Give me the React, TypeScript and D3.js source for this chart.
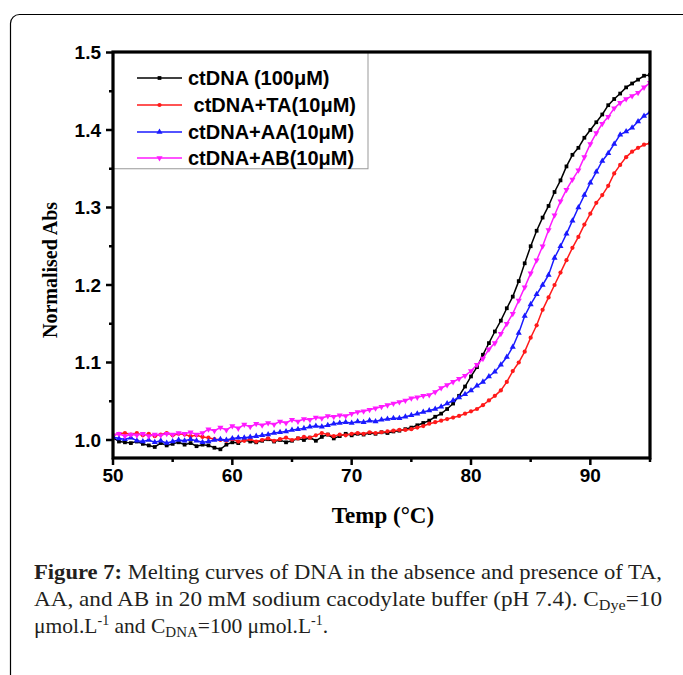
import React from "react";
import * as d3 from "d3";

// Temperature grid (°C)
const TEMP_START = 50;
const TEMP_STEP = 0.5;

// Normalised absorbance, one value per 0.5 °C from 50 to 95 °C
const ctDNA = [
  1.003, 0.998, 0.997, 0.996, 0.998, 0.995, 0.993, 0.991, 0.996, 0.993,
  0.995, 0.997, 0.994, 0.996, 0.992, 0.994, 0.993, 0.990, 0.988, 0.994,
  0.997, 0.996, 1.000, 0.998, 0.997, 0.999, 1.001, 0.998, 1.000, 0.997,
  0.999, 1.002, 1.000, 1.003, 0.999, 1.004, 1.007, 1.002, 1.005, 1.008,
  1.006, 1.008, 1.007, 1.009, 1.008, 1.010, 1.009, 1.011, 1.012, 1.014,
  1.016, 1.019, 1.022, 1.025, 1.030, 1.034, 1.040, 1.047, 1.057, 1.069,
  1.082, 1.094, 1.110, 1.125, 1.140, 1.154, 1.170, 1.185, 1.205, 1.228,
  1.250, 1.270, 1.287, 1.302, 1.320, 1.335, 1.353, 1.368, 1.377, 1.390,
  1.400, 1.410, 1.420, 1.432, 1.440, 1.447, 1.455, 1.460, 1.465, 1.470,
  1.471,
];
const ctDNA_TA = [
  1.006, 1.008, 1.009, 1.007, 1.009, 1.006, 1.008, 1.005, 1.007, 1.009,
  1.006, 1.008, 1.007, 1.005, 1.006, 1.004, 1.003, 1.001, 1.000, 0.999,
  1.001, 0.998, 0.999, 1.001, 0.998, 1.000, 1.002, 0.999, 1.001, 1.003,
  1.000, 1.002, 1.004, 1.003, 1.006, 1.009, 1.007, 1.005, 1.007, 1.006,
  1.008, 1.009, 1.008, 1.010, 1.009, 1.010, 1.011, 1.012, 1.013, 1.013,
  1.014, 1.016, 1.018, 1.021, 1.023, 1.025, 1.027, 1.029, 1.031, 1.034,
  1.037, 1.040, 1.045, 1.051, 1.057, 1.064, 1.075, 1.089, 1.100, 1.114,
  1.132, 1.148, 1.168, 1.184, 1.200, 1.216, 1.232, 1.248, 1.262, 1.278,
  1.292, 1.306, 1.316, 1.328, 1.344, 1.355, 1.365, 1.372, 1.377, 1.381,
  1.383,
];
const ctDNA_AA = [
  1.004, 1.002, 1.001, 1.003, 0.999, 0.998, 1.000, 0.997, 0.999, 0.996,
  0.998, 1.000, 0.999, 1.001, 0.999, 0.997, 0.998, 1.000, 1.001, 1.000,
  1.002, 1.003, 1.003, 1.004, 1.005, 1.006, 1.007, 1.009, 1.010, 1.011,
  1.013, 1.014, 1.015, 1.017, 1.018, 1.017, 1.019, 1.021, 1.022, 1.023,
  1.022, 1.024, 1.023, 1.025, 1.024, 1.026, 1.027, 1.028, 1.028, 1.030,
  1.032, 1.034, 1.036, 1.038, 1.040, 1.043, 1.047, 1.051, 1.055, 1.059,
  1.064, 1.070, 1.075, 1.082, 1.088, 1.097, 1.107, 1.120, 1.138, 1.160,
  1.175, 1.188, 1.200, 1.213, 1.235, 1.250, 1.266, 1.283, 1.300, 1.316,
  1.332, 1.346, 1.360, 1.370, 1.382, 1.394, 1.398, 1.403, 1.411, 1.418,
  1.423,
];
const ctDNA_AB = [
  1.006, 1.008, 1.005, 1.007, 1.006, 1.008, 1.005, 1.007, 1.006, 1.008,
  1.007, 1.009, 1.008, 1.010, 1.007, 1.009, 1.014, 1.012, 1.016, 1.013,
  1.018, 1.015, 1.020, 1.017, 1.021, 1.019, 1.022, 1.020, 1.024, 1.022,
  1.026, 1.024, 1.027, 1.026, 1.029, 1.028, 1.031, 1.030, 1.032, 1.031,
  1.034, 1.036, 1.037, 1.039, 1.041, 1.043, 1.045, 1.047, 1.049, 1.051,
  1.054, 1.055, 1.057, 1.058, 1.062, 1.067, 1.071, 1.075, 1.079, 1.083,
  1.089, 1.097, 1.105, 1.117, 1.125, 1.137, 1.150, 1.163, 1.180, 1.197,
  1.215, 1.232, 1.250, 1.271, 1.290, 1.308, 1.323, 1.336, 1.348, 1.365,
  1.382, 1.396, 1.408, 1.417, 1.428, 1.435, 1.440, 1.444, 1.448, 1.455,
  1.461,
];

const X_TICKS = [50, 60, 70, 80, 90];
const X_MINOR = [55, 65, 75, 85, 95];
const Y_TICKS = [1.0, 1.1, 1.2, 1.3, 1.4, 1.5];
const Y_MINOR = [1.05, 1.15, 1.25, 1.35, 1.45];

const LEGEND_LABELS = ["ctDNA (100\u03bcM)", " ctDNA+TA(10\u03bcM)", "ctDNA+AA(10\u03bcM)", "ctDNA+AB(10\u03bcM)"];
const SERIES_COLORS = ["#000000", "#ff1a1a", "#1a1aff", "#ff1aff"];

const SANS = "'Liberation Sans', Arial, sans-serif";
const SERIF = "'Liberation Serif', 'Times New Roman', serif";

const W = 683;
const H = 675;
const M = { left: 113, right: 650, top: 52, bottom: 458 };

export default function App() {
  const x = d3.scaleLinear().domain([50, 95]).range([M.left, M.right]);
  const y = d3.scaleLinear().domain([1.0, 1.5]).range([440, 52.5]);

  const seriesValues = [ctDNA, ctDNA_TA, ctDNA_AA, ctDNA_AB];
  const symbols = [
    { type: d3.symbolSquare, size: 14, rot: 0 },
    { type: d3.symbolCircle, size: 14, rot: 0 },
    { type: d3.symbolTriangle, size: 16, rot: 0 },
    { type: d3.symbolTriangle, size: 16, rot: 180 },
  ];
  const series = seriesValues.map((vals, i) => ({
    label: LEGEND_LABELS[i],
    color: SERIES_COLORS[i],
    sym: symbols[i],
    pts: vals.map((v, j) => [TEMP_START + j * TEMP_STEP, v] as [number, number]),
  }));

  const line = d3
    .line<[number, number]>()
    .x((d) => x(d[0]))
    .y((d) => y(d[1]));

  const legendRowY = [78, 105, 132, 158];

  return (
    <svg
      width={W}
      height={H}
      style={{ position: "absolute", left: 0, top: 0, background: "#fff" }}
    >
      {/* outer rounded frame */}
      <rect x={10.5} y={14.5} width={800} height={800} rx={9} fill="none" stroke="#000" strokeWidth={1.2} />

      <defs>
        <clipPath id="plotclip">
          <rect x={M.left} y={M.top} width={M.right - M.left} height={M.bottom - M.top} />
        </clipPath>
      </defs>

      {/* legend box */}
      <rect x={M.left} y={M.top} width={368 - M.left} height={y(1.35) - M.top} fill="#fff" stroke="#999" strokeWidth={1} />
      {series.map((s, i) => (
        <g key={"lg" + i}>
          <line x1={137} x2={182} y1={legendRowY[i]} y2={legendRowY[i]} stroke={s.color} strokeWidth={1.5} />
          <path
            d={d3.symbol().type(s.sym.type).size(s.sym.size)() || ""}
            transform={`translate(159.5,${legendRowY[i]}) rotate(${s.sym.rot})`}
            fill={s.color}
          />
          <text
            x={188}
            y={legendRowY[i]}
            dy="0.36em"
            fontFamily={SANS}
            fontWeight="bold"
            fontSize={20}
            style={{ whiteSpace: "pre" }}
            xmlSpace="preserve"
          >
            {s.label}
          </text>
        </g>
      ))}

      {/* data */}
      <g clipPath="url(#plotclip)">
        {series.map((s, i) => (
          <g key={"s" + i}>
            <path d={line(s.pts) || ""} fill="none" stroke={s.color} strokeWidth={1.5} />
            {s.pts.map((p, j) => (
              <path
                key={j}
                d={d3.symbol().type(s.sym.type).size(s.sym.size)() || ""}
                transform={`translate(${x(p[0])},${y(p[1])}) rotate(${s.sym.rot})`}
                fill={s.color}
              />
            ))}
          </g>
        ))}
      </g>

      {/* frame */}
      <rect
        x={M.left}
        y={M.top}
        width={M.right - M.left}
        height={M.bottom - M.top}
        fill="none"
        stroke="#000"
        strokeWidth={3.2}
      />

      {/* y ticks */}
      {Y_TICKS.map((t) => (
        <g key={"yt" + t}>
          <line x1={M.left - 7} x2={M.left} y1={y(t)} y2={y(t)} stroke="#000" strokeWidth={2.5} />
          <text
            x={M.left - 12}
            y={y(t)}
            dy="0.36em"
            textAnchor="end"
            fontFamily={SANS}
            fontWeight="bold"
            fontSize={19}
          >
            {t.toFixed(1)}
          </text>
        </g>
      ))}
      {Y_MINOR.map((t) => (
        <line key={"ym" + t} x1={M.left - 4} x2={M.left} y1={y(t)} y2={y(t)} stroke="#000" strokeWidth={2.5} />
      ))}

      {/* x ticks */}
      {X_TICKS.map((t) => (
        <g key={"xt" + t}>
          <line x1={x(t)} x2={x(t)} y1={M.bottom} y2={M.bottom + 7} stroke="#000" strokeWidth={2.5} />
          <text
            x={x(t)}
            y={M.bottom + 24}
            textAnchor="middle"
            fontFamily={SANS}
            fontWeight="bold"
            fontSize={19}
          >
            {t}
          </text>
        </g>
      ))}
      {X_MINOR.map((t) => (
        <line key={"xm" + t} x1={x(t)} x2={x(t)} y1={M.bottom} y2={M.bottom + 4} stroke="#000" strokeWidth={2.5} />
      ))}

      {/* axis titles */}
      <text
        x={383}
        y={523}
        textAnchor="middle"
        fontFamily={SERIF}
        fontWeight="bold"
        fontSize={23}
      >
        Temp (°C)
      </text>
      <text
        transform="translate(57,270) rotate(-90)"
        textAnchor="middle"
        fontFamily={SERIF}
        fontWeight="bold"
        fontSize={20}
      >
        Normalised Abs
      </text>

      {/* caption */}
      <g fontFamily={SERIF} fontSize={21.5} fill="#231f20">
        <text x={34} y={579} textLength={628} lengthAdjust="spacingAndGlyphs">
          <tspan fontWeight="bold">Figure 7:</tspan> Melting curves of DNA in the absence and presence of TA,
        </text>
        <text x={34} y={606} textLength={628} lengthAdjust="spacingAndGlyphs">
          AA, and AB in 20 mM sodium cacodylate buffer (pH 7.4). C
          <tspan fontSize={15} dy={4}>Dye</tspan>
          <tspan dy={-4}>=10</tspan>
        </text>
        <text x={34} y={633}>
          μmol.L<tspan fontSize={14} dy={-8}>-1</tspan>
          <tspan dy={8}> and C</tspan>
          <tspan fontSize={15} dy={4}>DNA</tspan>
          <tspan dy={-4}>=100 μmol.L</tspan>
          <tspan fontSize={14} dy={-8}>-1</tspan>
          <tspan dy={8}>.</tspan>
        </text>
      </g>
    </svg>
  );
}
